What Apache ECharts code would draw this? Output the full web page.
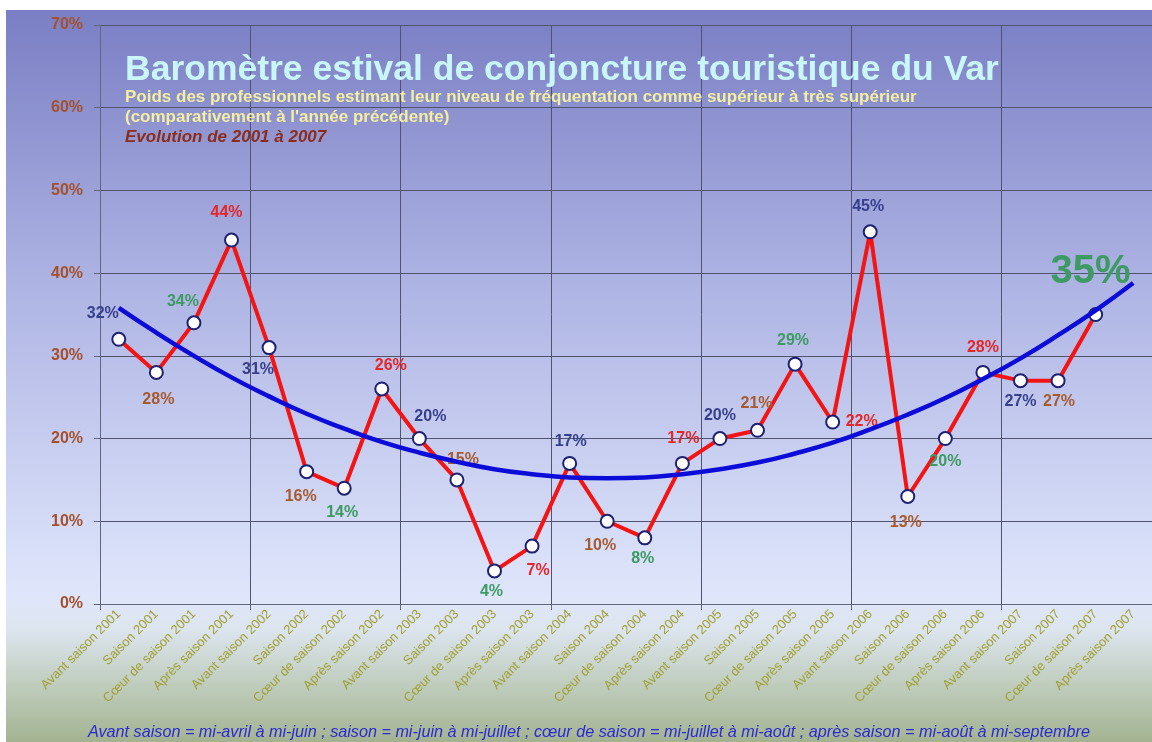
<!DOCTYPE html>
<html>
<head>
<meta charset="utf-8">
<script src="https://cdn.jsdelivr.net/npm/echarts@6/dist/echarts.min.js"></script>
<style>
html, body { margin: 0; padding: 0; background: #fff; }
#main { width: 1152px; height: 742px; }
</style>
</head>
<body>
<div id="main"></div>
<script>
var periods = [
        'Avant saison 2001', 'Saison 2001', 'Cœur de saison 2001', 'Après saison 2001',
        'Avant saison 2002', 'Saison 2002', 'Cœur de saison 2002', 'Après saison 2002',
        'Avant saison 2003', 'Saison 2003', 'Cœur de saison 2003', 'Après saison 2003',
        'Avant saison 2004', 'Saison 2004', 'Cœur de saison 2004', 'Après saison 2004',
        'Avant saison 2005', 'Saison 2005', 'Cœur de saison 2005', 'Après saison 2005',
        'Avant saison 2006', 'Saison 2006', 'Cœur de saison 2006', 'Après saison 2006',
        'Avant saison 2007', 'Saison 2007', 'Cœur de saison 2007', 'Après saison 2007'
];

// % of professionals reporting higher / much higher attendance
var shares = [32, 28, 34, 44, 31, 16, 14, 26, 20, 15, 4, 7, 17, 10, 8, 17, 20, 21, 29, 22, 45, 13, 20, 28, 27, 27, 35];

// polynomial trend line at each period
var trend = [35.8, 32.8, 30.0, 27.4, 25.1, 23.0, 21.2, 19.6, 18.3, 17.2, 16.3, 15.7, 15.3, 15.2,
             15.3, 15.7, 16.3, 17.1, 18.2, 19.5, 21.1, 22.9, 24.9, 27.2, 29.7, 32.5, 35.5, 38.8];

var yTicks = [0, 70, 10];

// label colour per season (avant, saison, coeur, apres)
var seasonColors = ['#363f8c', '#a65a30', '#3c9a62', '#e5262b'];
// label offsets from the point
var labelOffsets = [
        [-16, -26], [2, 27], [-11, -21], [-5, -27], [-11, 22], [-6, 25], [-2, 24], [9, -23],
        [11, -22], [6, -20], [-3, 21], [6, 24], [1, -22], [-7, 24], [-2, 21], [1, -25],
        [0, -23], [-1, -27], [-2, -24], [29, 0], [-2, -25], [-2, 26], [0, 23], [0, -25],
        [0, 21], [1, 21], [-5, -43]
];

var font = 'Arial, "Liberation Sans", sans-serif';
var chart = echarts.init(document.getElementById('main'));

var pointData = shares.map(function (v, i) {
        var item = {
                value: v,
                label: {
                        offset: labelOffsets[i],
                        color: seasonColors[i % 4]
                }
        };
        if (i === shares.length - 1) {
                item.label.fontSize = 40;
        }
        return item;
});

function everyFourth(index) {
        return index % 4 === 0;
}

chart.setOption({
        animation: false,
        graphic: [{
                type: 'rect',
                silent: true,
                z: -10,
                shape: { x: 6, y: 10, width: 1146, height: 732 },
                style: {
                        fill: new echarts.graphic.LinearGradient(0, 0, 0, 1, [
                                { offset: 0, color: '#7a7ec4' },
                                { offset: 0.4, color: '#b1b7e5' },
                                { offset: 0.8, color: '#dfe6fb' },
                                { offset: 0.845, color: '#dde5ef' },
                                { offset: 0.93, color: '#bccab8' },
                                { offset: 1, color: '#a3b391' }
                        ])
                }
        }],
        title: [
                {
                        text: 'Baromètre estival de conjoncture touristique du Var',
                        left: 125, top: 52, padding: 0,
                        textStyle: { color: '#c9f7f8', fontSize: 35.5, fontWeight: 'bold', fontFamily: font }
                },
                {
                        text: 'Poids des professionnels estimant leur niveau de fréquentation comme supérieur à très supérieur',
                        left: 125, top: 89, padding: 0,
                        textStyle: { color: '#f3eea0', fontSize: 17, fontWeight: 'bold', fontFamily: font }
                },
                {
                        text: '(comparativement à l\'année précédente)',
                        left: 125, top: 109, padding: 0,
                        textStyle: { color: '#f3eea0', fontSize: 17, fontWeight: 'bold', fontFamily: font }
                },
                {
                        text: 'Evolution de 2001 à 2007',
                        left: 125, top: 129, padding: 0,
                        textStyle: { color: '#8a2d1c', fontSize: 17, fontWeight: 'bold', fontStyle: 'italic', fontFamily: font }
                },
                {
                        text: 'Avant saison = mi-avril à mi-juin ; saison = mi-juin à mi-juillet ; cœur de saison = mi-juillet à mi-août ; après saison = mi-août à mi-septembre',
                        left: 88, top: 724, padding: 0,
                        textStyle: { color: '#2a2ad2', fontSize: 16.2, fontWeight: 'normal', fontStyle: 'italic', fontFamily: font }
                }
        ],
        grid: { left: 100, right: 0, top: 25, bottom: 138 },
        xAxis: {
                type: 'category',
                data: periods,
                boundaryGap: true,
                axisLine: { lineStyle: { color: '#62667e' } },
                axisTick: { show: true, interval: everyFourth, length: 6, lineStyle: { color: '#62667e' } },
                splitLine: { show: true, interval: everyFourth, lineStyle: { color: '#50546e', width: 1 } },
                axisLabel: { interval: 0, rotate: 45, color: '#a0a034', fontSize: 13, margin: 8, fontFamily: font }
        },
        yAxis: {
                type: 'value',
                min: yTicks[0], max: yTicks[1], interval: yTicks[2],
                axisLine: { show: true, lineStyle: { color: '#62667e' } },
                axisTick: { show: true, length: 6, lineStyle: { color: '#62667e' } },
                splitLine: { lineStyle: { color: '#50546e', width: 1 } },
                axisLabel: { formatter: '{value}%', color: '#a4502c', fontSize: 16, fontWeight: 'bold', margin: 17, fontFamily: font }
        },
        series: [
                {
                        name: 'Poids',
                        type: 'line',
                        data: pointData,
                        symbol: 'circle',
                        symbolSize: 13,
                        itemStyle: { color: '#ffffff', borderColor: '#1d2170', borderWidth: 2 },
                        lineStyle: { color: '#f41414', width: 4 },
                        label: {
                                show: true,
                                position: 'inside',
                                formatter: '{c}%',
                                fontSize: 16,
                                fontWeight: 'bold',
                                fontFamily: font,
                                textBorderWidth: 0
                        },
                        emphasis: { disabled: true },
                        z: 3
                },
                {
                        name: 'Tendance',
                        type: 'line',
                        data: trend,
                        smooth: true,
                        symbol: 'none',
                        lineStyle: { color: '#0c0cd8', width: 4.5 },
                        emphasis: { disabled: true },
                        z: 4
                }
        ]
});
</script>
</body>
</html>
